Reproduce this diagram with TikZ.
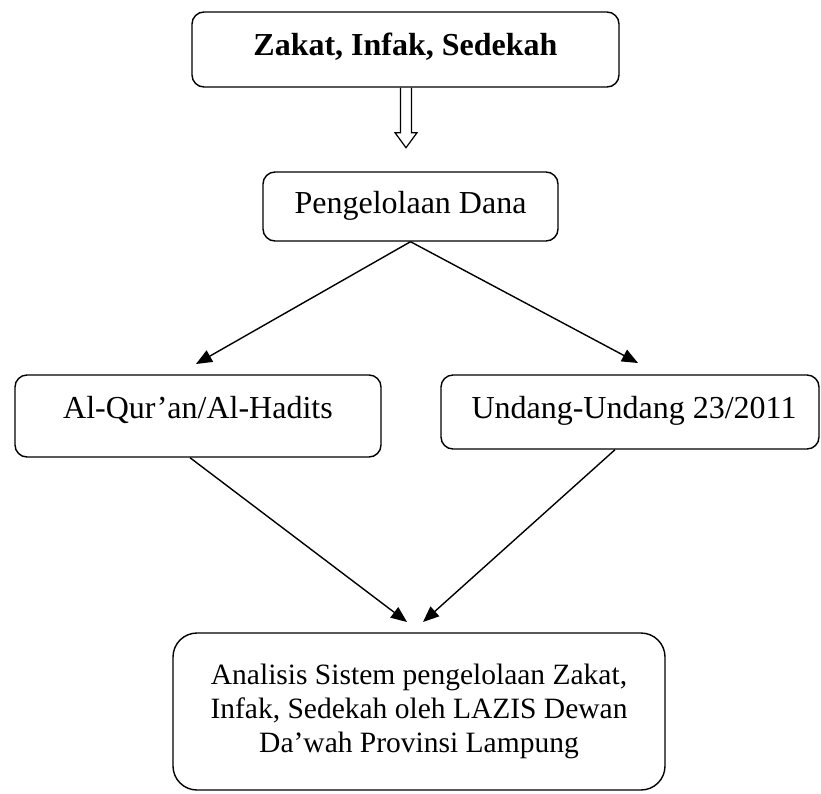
\documentclass[tikz,border=0pt]{standalone}
\usepackage{fontspec}
\setmainfont{Liberation Serif}
\usetikzlibrary{arrows.meta,calc}

\tikzset{
  box/.style={draw, line width=1.4pt, rounded corners=12pt, align=center,
    inner sep=0pt, font=\fontsize{32}{37}\selectfont, text height=23pt},
  link/.style={line width=1.4pt, -{Triangle[length=16pt, width=13pt]}}
}

\begin{document}
\begin{tikzpicture}[x=1pt, y=-1pt]
  \useasboundingbox (0,0) rectangle (821,793);
  \node[box, minimum width=427pt, minimum height=75pt, text depth=12pt,
    font=\fontsize{32}{37}\selectfont\bfseries]
    (zis) at (405.5,49.5) {Zakat, Infak, Sedekah};
  \node[box, minimum width=295pt, minimum height=69pt, text depth=10pt]
    (dana) at (410.5,206.5) {Pengelolaan Dana};
  \node[box, minimum width=366pt, minimum height=82pt, text depth=19pt]
    (quran) at (198,416) {Al-Qur’an/Al-Hadits};
  \node[box, minimum width=378pt, minimum height=74pt, text depth=11pt]
    (uu) at (630,412) {\hspace*{8pt}Undang-Undang 23/2011};
  \node[box, minimum width=492pt, minimum height=157pt, rounded corners=24pt,
    text height=, font=\fontsize{29.5}{34}\selectfont]
    (analisis) at (419,711.5) {Analisis Sistem pengelolaan Zakat,\\
      Infak, Sedekah oleh LAZIS Dewan\\ Da’wah Provinsi Lampung};
  % hollow arrow
  \draw[line width=1.2pt, line join=miter]
    ($(zis.south)+(-5,0)$) -- ++(0,45) -- ++(-5.5,0) -- ($(zis.south)+(0.5,60)$)
    -- ($(zis.south)+(11.5,45)$) -- ++(-5.5,0) -- ($(zis.south)+(6,0)$);
  % tips
  \coordinate (tq) at (196,364);
  \coordinate (tu) at (638,363);
  \coordinate (ta) at (407,622);
  \coordinate (tb) at (423,622);
  \draw[link] (dana.south) -- (tq);
  \draw[link] (dana.south) -- (tu);
  \draw[link] ($(quran.south)+(-8,0)$) -- (ta);
  \draw[link] ($(uu.south)+(-15,0)$) -- (tb);
\end{tikzpicture}
\end{document}
